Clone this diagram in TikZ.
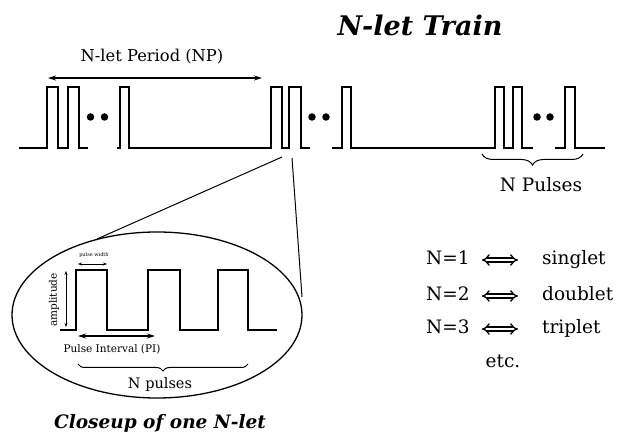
\documentclass[tikz,border=0pt]{standalone}
\usepackage{fontspec}
\setmainfont{DejaVu Serif}
\usetikzlibrary{arrows.meta,decorations.pathreplacing,calc}
\begin{document}
\begin{tikzpicture}[x=1pt,y=-1pt,
  sig/.style={line width=1.3pt, line join=miter},
  lbl/.style={inner sep=0pt, font=\fontsize{16.3}{19}\selectfont},
  row/.style={inner sep=0pt, font=\fontsize{18.5}{21}\selectfont, text height=13pt, text depth=4pt},
  tiny/.style={inner sep=0pt, font=\fontsize{5}{6}\selectfont},
  small/.style={inner sep=0pt, font=\fontsize{10.5}{12}\selectfont},
  bigit/.style={inner sep=0pt, font=\fontsize{27}{31}\selectfont\bfseries\itshape},
  capit/.style={inner sep=0pt, font=\fontsize{18.5}{21}\selectfont\bfseries\itshape},
  dimarr/.style={line width=1.2pt, {Stealth[length=8pt,width=5pt]}-{Stealth[length=8pt,width=5pt]}},
  smallarr/.style={line width=0.8pt, {Stealth[length=4pt,width=3pt]}-{Stealth[length=4pt,width=3pt]}},
  iff/.style={double, double distance=2.6pt, line width=1.3pt, {Implies}-{Implies}},
  dot/.style={circle, fill=black, inner sep=0pt, minimum size=7.5pt},
  brc/.style={line width=1pt, decorate, decoration={brace, mirror, amplitude=#1}},
  zoomline/.style={line width=1pt}
]
\useasboundingbox (0,0) rectangle (619,435);

% title
\node[bigit] (title) at (420,25) {N-let Train};

% pulse train
\draw[sig] (19,148) -- (47,148) -- (47,87) -- (58,87) -- (58,148) -- (68,148) -- (68,87) -- (79,87) -- (79,148) -- (88,148);
\draw[sig] (117,148) -- (120,148) -- (120,87) -- (129,87) -- (129,148) -- (271,148) -- (271,87) -- (282,87) -- (282,148) -- (289,148) -- (289,87) -- (301,87) -- (301,148) -- (310,148);
\draw[sig] (332,148) -- (342,148) -- (342,87) -- (351,87) -- (351,148) -- (495,148) -- (495,87) -- (504,87) -- (504,148) -- (513,148) -- (513,87) -- (522,87) -- (522,148) -- (533,148);
\draw[sig] (555,148) -- (565,148) -- (565,87) -- (575,87) -- (575,148) -- (605,148);

% dots
\node[dot] (d1) at (90.5,117) {};
\node[dot] (d2) at (104.5,117) {};
\node[dot] (d3) at (312,117) {};
\node[dot] (d4) at (326,117) {};
\node[dot] (d5) at (537,117) {};
\node[dot] (d6) at (550,117) {};

% N-let period
\coordinate (npL) at (48,78);
\coordinate (npR) at (262,78);
\draw[dimarr] (npL) -- (npR);
\node[lbl] (np) at (152,57) {N-let Period (NP)};

% N Pulses brace
\coordinate (b1L) at (482,154);
\coordinate (b1R) at (583,154);
\draw[brc=11pt] (b1L) -- (b1R);
\node[inner sep=0pt, font=\fontsize{18.5}{21}\selectfont] (npulses) at (541,185) {N Pulses};

% zoom lines and ellipse
\coordinate (z1) at (282,157);
\coordinate (z2) at (292,158);
\coordinate (e1) at (97,239);
\coordinate (e2) at (302,297);
\draw[zoomline] (z1) -- (e1);
\draw[zoomline] (z2) -- (e2);
\draw[line width=1.3pt] (157,315) ellipse [x radius=145, y radius=83];

% closeup waveform
\draw[line width=1.2pt, line join=miter] (60,330) -- (76,330) -- (76,270) -- (107,270) -- (107,330) -- (148,330) -- (148,270) -- (180,270) -- (180,330) -- (218,330) -- (218,270) -- (248,270) -- (248,330) -- (277,330);

% pulse width
\coordinate (pwL) at (78,264);
\coordinate (pwR) at (107,264);
\draw[smallarr] (pwL) -- (pwR);
\node[tiny] (pw) at (94,255) {pulse width};

% amplitude
\coordinate (amT) at (66,271);
\coordinate (amB) at (66,327);
\draw[smallarr] (amT) -- (amB);
\node[small, rotate=90] (amp) at (54,300) {amplitude};

% pulse interval
\coordinate (piL) at (78,336);
\coordinate (piR) at (155,336);
\draw[dimarr] (piL) -- (piR);
\node[small] (pi) at (112,349) {Pulse Interval (PI)};

% N pulses brace in ellipse
\coordinate (b2L) at (78,364);
\coordinate (b2R) at (248,364);
\draw[brc=7pt] (b2L) -- (b2R);
\node[inner sep=0pt, font=\fontsize{14.5}{17}\selectfont] (npul2) at (160,385) {N pulses};

% caption
\node[capit] (caption) at (160,423) {Closeup of one N-let};

% right table
\node[row, anchor=west] (n1) at (426,260) {N=1};
\node[row, anchor=west] (s1) at (542,260) {singlet};
\node[row, anchor=west] (n2) at (426,296) {N=2};
\node[row, anchor=west] (s2) at (542,296) {doublet};
\node[row, anchor=west] (n3) at (426,329) {N=3};
\node[row, anchor=west] (s3) at (542,329) {triplet};
\node[row] (etc) at (503,363) {etc.};
\draw[iff, shorten <=12pt, shorten >=24pt] (n1) -- (s1);
\draw[iff, shorten <=12pt, shorten >=24pt] (n2) -- (s2);
\draw[iff, shorten <=12pt, shorten >=24pt] (n3) -- (s3);
\end{tikzpicture}
\end{document}
